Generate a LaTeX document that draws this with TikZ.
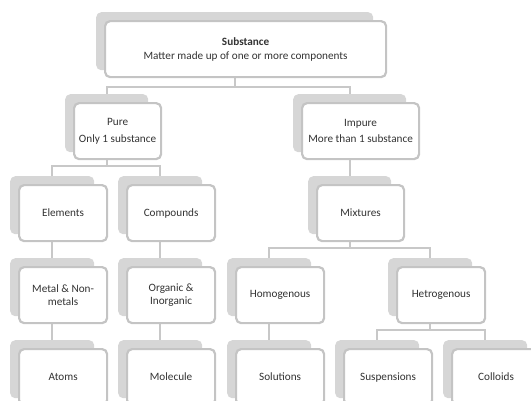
\documentclass[tikz,border=0pt]{standalone}
\usepackage{fontspec}
\setmainfont{Carlito}
\usetikzlibrary{backgrounds}
\definecolor{shadowc}{HTML}{D6D6D6}
\definecolor{borderc}{HTML}{C4C4C4}
\definecolor{connc}{HTML}{C8C8C8}
\definecolor{textc}{HTML}{333333}
\tikzset{
  shadowbox/.style={rectangle, rounded corners=5pt, fill=shadowc, draw=none, minimum height=58pt, anchor=north west, inner sep=0pt},
  frontbox/.style={rectangle, rounded corners=5pt, fill=white, draw=borderc, line width=2.2pt, minimum height=56pt, anchor=north west, inner sep=1pt, align=center, font=\fontsize{11.2}{12.5}\selectfont, text=textc},
  conn/.style={draw=connc, line width=2.2pt}
}
\newcommand{\smbox}[5]{%
  \node[shadowbox, minimum width=#4pt] (#1S) at (#2,#3) {};
  \node[frontbox, minimum width=#4pt+4pt] (#1) at ({#2+8},{#3+8}) {#5};
}
\begin{document}
\begin{tikzpicture}[x=1pt,y=-1pt]
\clip (0,0) rectangle (531,400);
% row 1
\smbox{sub}{96}{12}{277}{\textbf{Substance}\\[1.5pt]Matter made up of one or more components}
% row 2
\smbox{pure}{65}{94}{83}{Pure\\[5pt]Only 1 substance}
\smbox{impure}{293}{94}{113}{Impure\\[3pt]More than 1 substance}
% row 3
\smbox{elem}{10}{176}{84}{Elements}
\smbox{comp}{118}{176}{84}{Compounds}
\smbox{mix}{308}{176}{83}{Mixtures}
% row 4
\smbox{metal}{10}{258}{84}{Metal \& Non-\\metals}
\smbox{org}{118}{258}{84}{Organic \&\\Inorganic}
\smbox{homo}{227}{258}{84}{Homogenous}
\smbox{het}{388}{258}{84}{Hetrogenous}
% row 5
\smbox{atom}{10}{340}{84}{Atoms}
\smbox{mol}{118}{340}{84}{Molecule}
\smbox{sol}{227}{340}{84}{Solutions}
\smbox{susp}{335}{340}{84}{Suspensions}
\smbox{coll}{443}{340}{84}{Colloids}
% bar levels
\coordinate (b1) at (0,87);
\coordinate (b2) at (0,166);
\coordinate (b3) at (0,248);
\coordinate (b4) at (0,330);
\begin{scope}[on background layer]
\draw[conn] (subS.south) -- (subS.south |- b1) -| (pureS.north);
\draw[conn] (subS.south) -- (subS.south |- b1) -| (impureS.north);
\draw[conn] (pureS.south) -- (pureS.south |- b2) -| (elemS.north);
\draw[conn] (pureS.south) -- (pureS.south |- b2) -| (compS.north);
\draw[conn] (impureS.south) -- (mixS.north);
\draw[conn] (elemS.south) -- (metalS.north);
\draw[conn] (compS.south) -- (orgS.north);
\draw[conn] (mixS.south) -- (mixS.south |- b3) -| (homoS.north);
\draw[conn] (mixS.south) -- (mixS.south |- b3) -| (hetS.north);
\draw[conn] (metalS.south) -- (atomS.north);
\draw[conn] (orgS.south) -- (molS.north);
\draw[conn] (homoS.south) -- (solS.north);
\draw[conn] (hetS.south) -- (hetS.south |- b4) -| (suspS.north);
\draw[conn] (hetS.south) -- (hetS.south |- b4) -| (collS.north);
\end{scope}
\end{tikzpicture}
\end{document}
